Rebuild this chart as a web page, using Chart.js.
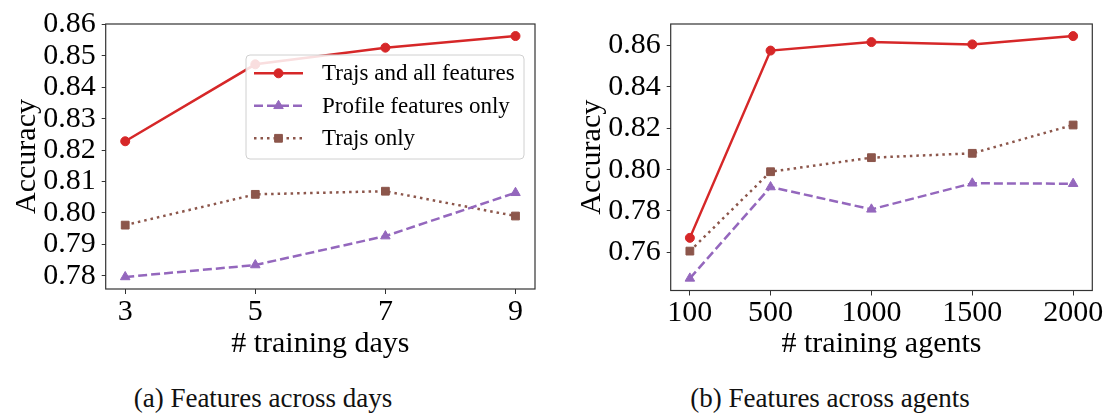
<!DOCTYPE html>
<html>
<head>
<meta charset="utf-8">
<script src="https://cdn.jsdelivr.net/npm/chart.js@4/dist/chart.umd.min.js"></script>
<style>
    body { margin: 0; background: #fff; width: 1108px; height: 416px; position: relative; overflow: hidden; }
    canvas { position: absolute; top: 0; }
    .caption {
        position: absolute; top: 383px;
        font-family: "Liberation Serif", "Times New Roman", serif;
        font-size: 27px; color: #111; white-space: nowrap;
        transform: translateX(-50%);
    }
</style>
</head>
<body>
<canvas id="days-chart" width="560" height="370" style="left:0"></canvas>
<canvas id="agents-chart" width="548" height="370" style="left:560px"></canvas>
<div class="caption" style="left:263px">(a) Features across days</div>
<div class="caption" style="left:830px">(b) Features across agents</div>

<script>
// Séries et étiquettes
const seriesLabels = ["Trajs and all features", "Profile features only", "Trajs only"];

// (a) jours d'entraînement
const trainingDays = [3, 5, 7, 9];
const daysAllFeatures = [0.8228, 0.8473, 0.8526, 0.8563];
const daysProfileOnly = [0.7796, 0.7834, 0.7926, 0.8064];
const daysTrajsOnly = [0.7961, 0.8059, 0.8069, 0.7990];
const daysYTicks = [0.78, 0.79, 0.80, 0.81, 0.82, 0.83, 0.84, 0.85, 0.86];

// (b) agents d'entraînement
const trainingAgents = [100, 500, 1000, 1500, 2000];
const agentsAllFeatures = [0.7670, 0.8576, 0.8617, 0.8606, 0.8646];
const agentsProfileOnly = [0.7474, 0.7916, 0.7808, 0.7934, 0.7932];
const agentsTrajsOnly = [0.7606, 0.7990, 0.8058, 0.8079, 0.8216];
const agentsYTicks = [0.76, 0.78, 0.80, 0.82, 0.84, 0.86];

const SERIF = '"Liberation Serif", "Times New Roman", serif';
Chart.defaults.color = "#000";
Chart.defaults.font.family = SERIF;

const styles = [
    { color: "#d62728", pointStyle: "circle", radius: 4.5, dash: [] },
    { color: "#9467bd", pointStyle: "triangle", radius: 5.5, dash: [9, 4] },
    { color: "#8c564b", pointStyle: "rect", radius: 5.5, dash: [2.5, 4] }
];

// marge de 5 % comme matplotlib
function paddedRange(values) {
    const lo = Math.min(...values), hi = Math.max(...values);
    const m = (hi - lo) * 0.05;
    return [lo - m, hi + m];
}

function buildDatasets(xs, seriesList) {
    return seriesList.map((ys, i) => ({
        label: seriesLabels[i],
        data: xs.map((x, k) => ({ x: x, y: ys[k] })),
        borderColor: styles[i].color,
        backgroundColor: styles[i].color,
        borderWidth: 2.5,
        borderDash: styles[i].dash,
        borderCapStyle: "butt",
        pointStyle: styles[i].pointStyle,
        pointRadius: styles[i].radius,
        pointBorderWidth: 1,
        pointBorderColor: styles[i].color,
        pointBackgroundColor: styles[i].color,
        tension: 0,
        clip: false
    }));
}

// cadre complet autour de la zone de tracé
const framePlugin = {
    id: "frame",
    beforeDatasetsDraw(chart) {
        const { ctx, chartArea: a } = chart;
        ctx.save();
        ctx.strokeStyle = "#333";
        ctx.lineWidth = 1.2;
        ctx.strokeRect(a.left, a.top, a.right - a.left, a.bottom - a.top);
        ctx.restore();
    }
};

// légende encadrée façon matplotlib
const boxLegendPlugin = {
    id: "boxLegend",
    afterDatasetsDraw(chart, args, opts) {
        if (!opts.show) return;
        const ctx = chart.ctx;
        ctx.save();
        ctx.beginPath();
        ctx.roundRect(opts.x, opts.y, opts.w, opts.h, 4);
        ctx.fillStyle = "rgba(255,255,255,0.85)";
        ctx.fill();
        ctx.strokeStyle = "#d0d0d0";
        ctx.lineWidth = 1;
        ctx.stroke();

        chart.data.datasets.forEach((ds, i) => {
            const y = opts.firstRow + i * opts.rowGap;
            ctx.strokeStyle = ds.borderColor;
            ctx.lineWidth = ds.borderWidth;
            ctx.setLineDash(ds.borderDash);
            ctx.lineCap = "butt";
            ctx.beginPath();
            ctx.moveTo(opts.x + 8, y);
            ctx.lineTo(opts.x + 57, y);
            ctx.stroke();
            ctx.setLineDash([]);
            ctx.fillStyle = ds.pointBackgroundColor;
            ctx.strokeStyle = ds.pointBorderColor;
            ctx.lineWidth = 1;
            Chart.helpers.drawPoint(ctx, {
                pointStyle: ds.pointStyle, rotation: 0,
                radius: ds.pointRadius, borderWidth: 1
            }, opts.x + 32.5, y);
            ctx.fillStyle = "#000";
            ctx.font = "23px " + SERIF;
            ctx.textBaseline = "middle";
            ctx.textAlign = "left";
            ctx.fillText(ds.label, opts.x + 76, y + 1);
        });
        ctx.restore();
    }
};

function buildOptions(cfg) {
    const [xMin, xMax] = paddedRange(cfg.xs);
    const [yMin, yMax] = paddedRange(cfg.allY);
    return {
        responsive: false,
        animation: false,
        layout: { padding: { left: 0, top: cfg.top, right: cfg.right, bottom: 0 } },
        plugins: {
            legend: { display: false },
            tooltip: { enabled: false },
            boxLegend: cfg.legend || { show: false }
        },
        scales: {
            x: {
                type: "linear",
                min: xMin, max: xMax,
                afterBuildTicks: (scale) => { scale.ticks = cfg.xs.map(v => ({ value: v })); },
                afterFit: (scale) => { scale.height = cfg.xHeight; },
                ticks: { font: { size: 30 }, padding: 0, maxRotation: 0, autoSkip: false, callback: (v) => String(v) },
                grid: { drawOnChartArea: false, drawTicks: true, tickLength: 5, color: "#333" },
                border: { display: false },
                title: { display: true, text: cfg.xTitle, font: { size: 30 }, padding: { top: 0, bottom: 8 } }
            },
            y: {
                type: "linear",
                min: yMin, max: yMax,
                afterBuildTicks: (scale) => { scale.ticks = cfg.yTicks.map(v => ({ value: v })); },
                afterFit: (scale) => { scale.width = cfg.yWidth; },
                ticks: { font: { size: 30 }, padding: 6, autoSkip: false, callback: (v) => v.toFixed(2) },
                grid: { drawOnChartArea: false, drawTicks: true, tickLength: 4, color: "#333" },
                border: { display: false },
                title: { display: true, text: "Accuracy", font: { size: 30 }, padding: { top: cfg.yTitlePad, bottom: 0 } }
            }
        }
    };
}

document.addEventListener("DOMContentLoaded", () => {
    new Chart(document.getElementById("days-chart"), {
        type: "line",
        data: { datasets: buildDatasets(trainingDays, [daysAllFeatures, daysProfileOnly, daysTrajsOnly]) },
        options: buildOptions({
            xs: trainingDays,
            allY: [...daysAllFeatures, ...daysProfileOnly, ...daysTrajsOnly],
            yTicks: daysYTicks,
            xTitle: "# training days",
            top: 10, right: 25, xHeight: 81, yWidth: 105.7, yTitlePad: 9,
            legend: { show: true, x: 246, y: 55, w: 278, h: 104, firstRow: 73.3, rowGap: 32.5 }
        }),
        plugins: [framePlugin, boxLegendPlugin]
    });

    new Chart(document.getElementById("agents-chart"), {
        type: "line",
        data: { datasets: buildDatasets(trainingAgents, [agentsAllFeatures, agentsProfileOnly, agentsTrajsOnly]) },
        options: buildOptions({
            xs: trainingAgents,
            allY: [...agentsAllFeatures, ...agentsProfileOnly, ...agentsTrajsOnly],
            yTicks: agentsYTicks,
            xTitle: "# training agents",
            top: 16.7, right: 15.7, xHeight: 79.5, yWidth: 110.7, yTitlePad: 14
        }),
        plugins: [framePlugin, boxLegendPlugin]
    });
});
</script>
</body>
</html>
